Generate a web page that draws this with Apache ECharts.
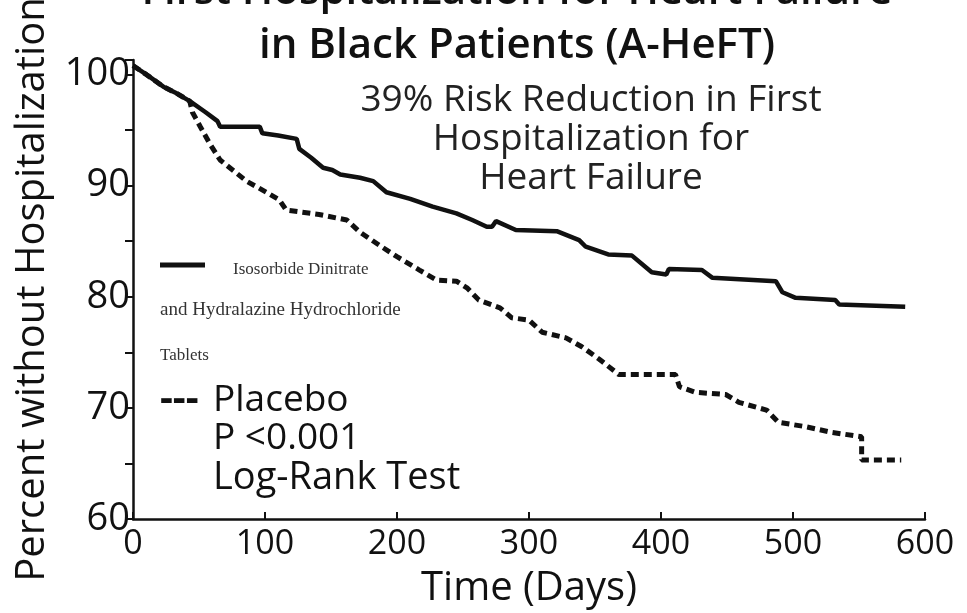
<!DOCTYPE html>
<html>
<head>
<meta charset="utf-8">
<script src="https://cdn.jsdelivr.net/npm/echarts@6/dist/echarts.min.js"></script>
<style>
html,body{margin:0;padding:0;background:#fff;}
#c{width:967px;height:613px;}
</style>
</head>
<body>
<div id="c"></div>
<script>
// ---- data ----
var titleLines = ['First Hospitalization for Heart Failure', 'in Black Patients (A-HeFT)'];
var noteLines = ['39% Risk Reduction in First', 'Hospitalization for', 'Heart Failure'];
var seriesNames = ['Isosorbide Dinitrate and Hydralazine Hydrochloride Tablets', 'Placebo'];
var xTicks = [0, 100, 200, 300, 400, 500, 600];
var yTicks = [60, 70, 80, 90, 100];

// [day, percent without hospitalization]
var isdnHyd = [
  [0,100.8],[10,100.0],[23,98.9],[33,98.3],[43,97.6],[55,96.6],[64,95.8],[66,95.3],
  [96,95.3],[98,94.7],[110,94.5],[124,94.2],[126,93.3],[135,92.5],[144,91.6],[151,91.4],
  [157,91.0],[172,90.7],[182,90.4],[192,89.4],[210,88.8],[227,88.1],[245,87.5],[257,86.9],
  [268,86.3],[272,86.3],[275,86.8],[290,86.0],[321,85.9],[338,85.1],[343,84.5],[360,83.8],
  [378,83.7],[393,82.2],[404,82.0],[406,82.5],[431,82.4],[439,81.7],[487,81.4],[492,80.4],
  [502,79.9],[532,79.7],[535,79.3],[585,79.1]
];
var placebo = [
  [0,100.8],[10,100.0],[23,98.9],[33,98.3],[43,97.6],[45,96.6],[51,95.3],[58,93.8],
  [66,92.3],[86,90.4],[101,89.4],[111,88.7],[116,87.8],[141,87.4],[162,86.9],[172,85.8],
  [187,84.6],[200,83.6],[217,82.4],[230,81.5],[245,81.4],[253,80.8],[262,79.7],[278,79.0],
  [287,78.1],[300,77.9],[310,76.8],[328,76.3],[340,75.5],[353,74.4],[368,73.0],[411,73.0],
  [414,71.9],[426,71.4],[449,71.2],[459,70.5],[480,69.8],[489,68.7],[510,68.3],[529,67.8],
  [552,67.4],[552,65.3],[582,65.3]
];

var SANS = '"Open Sans", "Noto Sans", sans-serif';
var SERIF = '"Liberation Serif", "DejaVu Serif", serif';

var chart = echarts.init(document.getElementById('c'));
chart.setOption({
  backgroundColor: '#ffffff',
  animation: false,
  title: {
    text: titleLines.join('\n'),
    left: 512,
    textAlign: 'center',
    top: -40,
    textStyle: { fontFamily: SANS, fontSize: 42, fontWeight: 600, color: '#111', lineHeight: 54 }
  },
  grid: { left: 133, right: 42, top: 60, bottom: 94, outerBoundsMode: 'none', containLabel: false },
  xAxis: {
    type: 'value', min: 0, max: 600, interval: 100,
    name: 'Time (Days)', nameLocation: 'middle', nameGap: 50,
    nameTextStyle: { fontFamily: SANS, fontSize: 40, color: '#111' },
    axisLine: { lineStyle: { color: '#111', width: 2.5 } },
    axisTick: { inside: true, length: 7, lineStyle: { color: '#111', width: 2 } },
    axisLabel: { fontFamily: SANS, fontSize: 34, color: '#111', margin: 8,
      formatter: function (v) { return xTicks.indexOf(v) >= 0 ? String(v) : ''; } },
    splitLine: { show: false }
  },
  yAxis: {
    type: 'value', min: 60, max: 101.3, interval: 10,
    name: 'Percent without Hospitalization', nameLocation: 'middle', nameGap: 80,
    nameTextStyle: { fontFamily: SANS, fontSize: 40, color: '#111' },
    axisLine: { lineStyle: { color: '#111', width: 2.5 } },
    axisTick: { length: 8, lineStyle: { color: '#111', width: 2 } },
    minorTick: { show: true, splitNumber: 2, length: 8, lineStyle: { color: '#111', width: 2 } },
    axisLabel: { fontFamily: SANS, fontSize: 38, color: '#111', margin: 3, showMaxLabel: false,
      formatter: function (v) { return yTicks.indexOf(v) >= 0 ? String(v) : ''; } },
    splitLine: { show: false }
  },
  series: [
    { name: seriesNames[1], type: 'line', data: placebo, symbol: 'none', z: 2,
      lineStyle: { color: '#111', width: 5, type: [8, 5] } },
    { name: seriesNames[0], type: 'line', data: isdnHyd, symbol: 'none', z: 3,
      lineStyle: { color: '#111', width: 4.5 } }
  ],
  graphic: [
    { type: 'text', x: 591, y: 100, style: { text: noteLines[0], font: '37px ' + SANS, fill: '#222', align: 'center', verticalAlign: 'middle' } },
    { type: 'text', x: 591, y: 139, style: { text: noteLines[1], font: '37px ' + SANS, fill: '#222', align: 'center', verticalAlign: 'middle' } },
    { type: 'text', x: 591, y: 178, style: { text: noteLines[2], font: '37px ' + SANS, fill: '#222', align: 'center', verticalAlign: 'middle' } },
    { type: 'line', shape: { x1: 160, y1: 265, x2: 205, y2: 265 }, style: { stroke: '#111', lineWidth: 5 } },
    { type: 'text', x: 233, y: 270, style: { text: 'Isosorbide Dinitrate', font: '17px ' + SERIF, fill: '#333', verticalAlign: 'middle' } },
    { type: 'text', x: 160, y: 310, style: { text: 'and Hydralazine Hydrochloride', font: '19px ' + SERIF, fill: '#333', verticalAlign: 'middle' } },
    { type: 'text', x: 160, y: 356, style: { text: 'Tablets', font: '17px ' + SERIF, fill: '#333', verticalAlign: 'middle' } },
    { type: 'text', x: 160, y: 400, style: { text: '---', font: 'bold 40px ' + SANS, fill: '#111', verticalAlign: 'middle' } },
    { type: 'text', x: 213, y: 400, style: { text: 'Placebo', font: '37px ' + SANS, fill: '#111', verticalAlign: 'middle' } },
    { type: 'text', x: 213, y: 438, style: { text: 'P <0.001', font: '37px ' + SANS, fill: '#111', verticalAlign: 'middle' } },
    { type: 'text', x: 213, y: 478, style: { text: 'Log-Rank Test', font: '38px ' + SANS, fill: '#111', verticalAlign: 'middle' } }
  ]
});
</script>
</body>
</html>
